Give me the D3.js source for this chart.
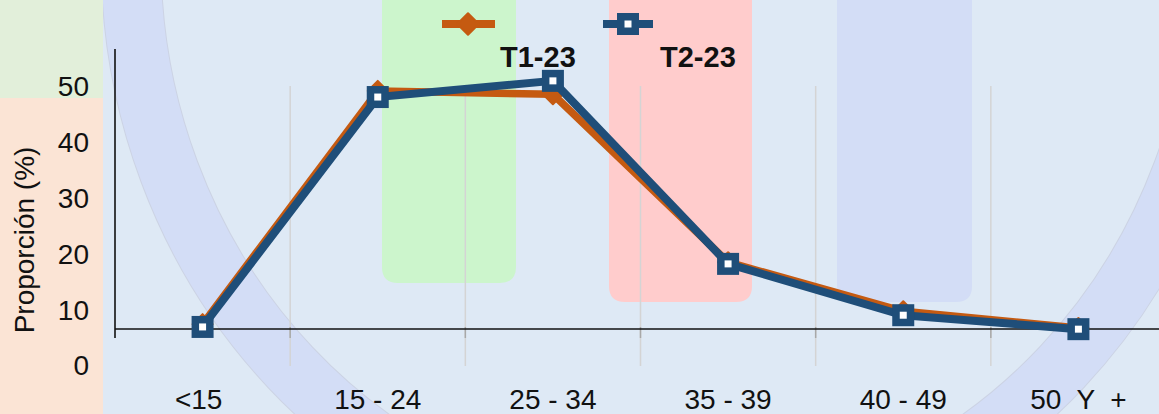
<!DOCTYPE html>
<html><head><meta charset="utf-8">
<script src="https://cdn.jsdelivr.net/npm/d3@7"></script>
<style>
html,body{margin:0;padding:0;background:#dee9f5;}
svg{display:block;font-family:"Liberation Sans",Arial,sans-serif;}
</style></head>
<body>
<svg id="c" width="1159" height="414"></svg>
<script>
// ---- data ----
const categories = ["<15", "15-24", "25-34", "35-39", "40-49", "50 Y +"];
const xTickLabels = ["<15 ", "15 - 24", "25 - 34", "35 - 39", "40 - 49", "50  Y  +"];
const seriesNames = ["T1-23", "T2-23"];
const t1Values = [7.5, 49.3, 48.7, 18.6, 9.8, 6.8];
const t2Values = [7.0, 48.2, 51.1, 18.3, 9.1, 6.6];
const yTicks = [0, 10, 20, 30, 40, 50];
const yTitle = "Proporción (%)";

// ---- layout ----
const W = 1159, H = 414;
const svg = d3.select("#c");
const orange = "#c55a11", blue = "#1f4e79";

// background
svg.append("rect").attr("width", W).attr("height", H).attr("fill", "#dee9f5");

// decorative ring
const ring = svg.append("g");
ring.append("ellipse").attr("cx", 676).attr("cy", -41).attr("rx", 545).attr("ry", 578)
  .attr("fill", "none").attr("stroke", "#ccd3e4").attr("stroke-width", 61);
ring.append("ellipse").attr("cx", 676).attr("cy", -41).attr("rx", 545).attr("ry", 578)
  .attr("fill", "none").attr("stroke", "#d3ddf6").attr("stroke-width", 59);

// decorative rounded panels
function panel(x0, x1, yb, col) {
  const r = 16;
  const p = `M${x0},-2 L${x1},-2 L${x1},${yb - r} Q${x1},${yb} ${x1 - r},${yb} L${x0 + r},${yb} Q${x0},${yb} ${x0},${yb - r} Z`;
  svg.append("path").attr("d", p).attr("fill", col);
}
panel(382, 516, 283, "#ccf5cc");
panel(609, 752, 302, "#ffcccc");
panel(837, 972, 302, "#d3ddf6");

// left strip
svg.append("rect").attr("x", 0).attr("y", 0).attr("width", 103).attr("height", 98).attr("fill", "#e2efda");
svg.append("rect").attr("x", 0).attr("y", 98).attr("width", 103).attr("height", H - 98).attr("fill", "#fbe4d5");

// scales
const x = d3.scaleBand().domain(categories).range([115, 1166]).paddingInner(0).paddingOuter(0);
const y = d3.scaleLinear().domain([0, 50]).range([366, 87]);
const cx = d => x(d) + x.bandwidth() / 2;
const axisY = 329;

// gridlines at band boundaries
const bounds = categories.slice(1).map(c => x(c));
svg.append("g").selectAll("line").data(bounds).join("line")
  .attr("x1", d => d).attr("x2", d => d).attr("y1", 86).attr("y2", 366)
  .attr("stroke", "#d4d4d4").attr("stroke-width", 1.5);
svg.append("g").selectAll("line").data(bounds).join("line")
  .attr("x1", d => d).attr("x2", d => d).attr("y1", axisY - 2).attr("y2", axisY + 9)
  .attr("stroke", "#a8a8a8").attr("stroke-width", 1.5);

// axes lines
svg.append("line").attr("x1", 115).attr("x2", W).attr("y1", axisY).attr("y2", axisY)
  .attr("stroke", "#111").attr("stroke-width", 1.6);
svg.append("line").attr("x1", 115).attr("x2", 115).attr("y1", 49).attr("y2", 338)
  .attr("stroke", "#111").attr("stroke-width", 1.6);

// y axis tick labels
const yAxis = svg.append("g").attr("transform", "translate(89,0)")
  .call(d3.axisLeft(y).tickValues(yTicks).tickSize(0).tickPadding(0));
yAxis.select(".domain").remove();
yAxis.selectAll("text").attr("font-size", 28).attr("fill", "#111")
  .attr("font-family", "'Liberation Sans', Arial, sans-serif");

// x axis tick labels
const xAxis = svg.append("g").attr("transform", "translate(0,389)")
  .call(d3.axisBottom(x).tickSize(0).tickPadding(0).tickFormat((d, i) => xTickLabels[i]));
xAxis.select(".domain").remove();
xAxis.selectAll("text").attr("font-size", 28).attr("fill", "#111")
  .attr("font-family", "'Liberation Sans', Arial, sans-serif")
  .style("white-space", "pre");

// y title
svg.append("text").attr("transform", "translate(34,240) rotate(-90)")
  .attr("text-anchor", "middle").attr("font-size", 28).attr("fill", "#111")
  .text(yTitle);

// lines
const line = d3.line().x(d => cx(d.c)).y(d => y(d.v));
const s1 = categories.map((c, i) => ({c, v: t1Values[i]}));
const s2 = categories.map((c, i) => ({c, v: t2Values[i]}));
svg.append("path").datum(s1).attr("d", line).attr("fill", "none")
  .attr("stroke", orange).attr("stroke-width", 7.5).attr("stroke-linejoin", "round");
svg.append("g").selectAll("path").data(s1).join("path")
  .attr("d", d3.symbol(d3.symbolSquare, 200))
  .attr("transform", d => `translate(${cx(d.c)},${y(d.v)}) rotate(45)`)
  .attr("fill", orange).attr("stroke", orange).attr("stroke-width", 2).attr("stroke-linejoin", "round");
svg.append("path").datum(s2).attr("d", line).attr("fill", "none")
  .attr("stroke", blue).attr("stroke-width", 8).attr("stroke-linejoin", "miter");
svg.append("g").selectAll("rect").data(s2).join("rect")
  .attr("x", d => cx(d.c) - 7.25).attr("y", d => y(d.v) - 7.25)
  .attr("width", 14.5).attr("height", 14.5)
  .attr("fill", "#fff").attr("stroke", blue).attr("stroke-width", 7.5);

// legend
const lg = svg.append("g");
lg.append("line").attr("x1", 442).attr("x2", 495).attr("y1", 24).attr("y2", 24)
  .attr("stroke", orange).attr("stroke-width", 8);
lg.append("path").attr("d", d3.symbol(d3.symbolSquare, 230))
  .attr("transform", "translate(468,24) rotate(45)")
  .attr("fill", orange).attr("stroke", orange).attr("stroke-width", 2).attr("stroke-linejoin", "round");
lg.append("text").attr("x", 500).attr("y", 67).attr("font-size", 29).attr("font-weight", "bold")
  .attr("fill", "#111").text(seriesNames[0]);
lg.append("line").attr("x1", 603).attr("x2", 653).attr("y1", 24).attr("y2", 24)
  .attr("stroke", blue).attr("stroke-width", 8);
lg.append("rect").attr("x", 628 - 7.25).attr("y", 24 - 7.25).attr("width", 14.5).attr("height", 14.5)
  .attr("fill", "#fff").attr("stroke", blue).attr("stroke-width", 7.5);
lg.append("text").attr("x", 660).attr("y", 67).attr("font-size", 29).attr("font-weight", "bold")
  .attr("fill", "#111").text(seriesNames[1]);
</script>
</body></html>
